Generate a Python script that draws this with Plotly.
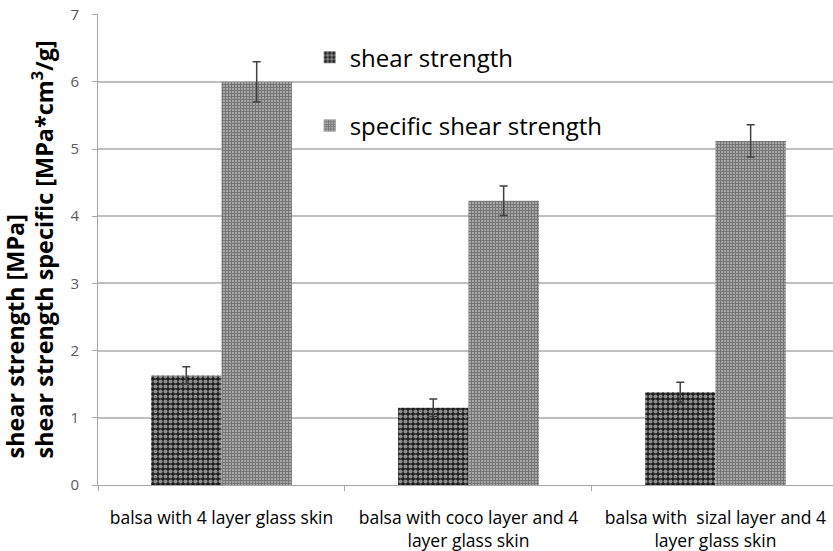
import plotly.graph_objects as go

categories = ["balsa with 4 layer glass skin",
              "balsa with coco layer and 4<br>layer glass skin",
              "balsa with  sizal layer and 4<br>layer glass skin"]
shear = [1.63, 1.15, 1.38]
shear_err = [0.13, 0.13, 0.15]
specific = [6.0, 4.23, 5.12]
specific_err = [0.3, 0.22, 0.24]
y_ticks = [0, 1, 2, 3, 4, 5, 6, 7]
y_title_lines = ["shear strength [MPa]", "shear strength specific [MPa*cm<sup>3</sup>/g]"]

font = "Open Sans, sans-serif"

fig = go.Figure()
fig.add_trace(go.Bar(
    x=categories, y=shear, name="shear strength", legendgroup="a",
    marker=dict(color="white", line=dict(width=0),
                pattern=dict(shape=".", bgcolor="#1a1a1a", fgcolor="white", size=5, solidity=0.55, fillmode="overlay")),
    error_y=dict(type="data", array=shear_err, color="#404040", thickness=1.5, width=4),
))
fig.add_trace(go.Bar(
    x=categories, y=specific, name="specific shear strength", legendgroup="b",
    marker=dict(color="white", line=dict(width=0),
                pattern=dict(shape="+", bgcolor="#d8d8d8", fgcolor="#111111", size=3, solidity=0.8, fillmode="overlay")),
    error_y=dict(type="data", array=specific_err, color="#404040", thickness=1.5, width=4),
))

for txt, xp in zip(y_title_lines, [-0.113, -0.075]):
    fig.add_annotation(text="<b>" + txt + "</b>", textangle=-90, xref="paper", yref="paper",
                       x=xp, y=0.052, xanchor="center", yanchor="bottom", showarrow=False,
                       font=dict(size=23.4, family=font, color="black"))

fig.update_layout(
    width=833, height=551,
    margin=dict(l=98, r=0, t=14, b=66),
    paper_bgcolor="white", plot_bgcolor="white",
    barmode="group", bargap=0.43, bargroupgap=0,
    font=dict(family=font, color="black"),
    showlegend=True,
    legend=dict(x=0.288, y=0.955, xanchor="left", yanchor="top",
                font=dict(size=24, family=font), tracegroupgap=34,
                bgcolor="rgba(0,0,0,0)"),
    xaxis=dict(range=[-0.5, 2.476], showline=True, linecolor="#a6a6a6", linewidth=1, automargin=False,
               ticks="outside", tickson="boundaries", ticklen=5, tickcolor="#a6a6a6",
               ticklabelstandoff=17,
               tickfont=dict(size=17.5, color="black", family=font)),
    yaxis=dict(range=[0, 7.01], tickvals=y_ticks, showgrid=True, gridcolor="#c0c0c0", gridwidth=1.5,
               showline=True, linecolor="#a6a6a6", linewidth=1, ticks="outside", ticklen=5,
               tickcolor="#a6a6a6", tickfont=dict(size=15, color="#595959", family=font),
               ticklabelstandoff=10, zeroline=False, automargin=False),
)

fig.write_html("out.html", config={"displayModeBar": False},
               post_script="document.body.style.margin='0px';")
